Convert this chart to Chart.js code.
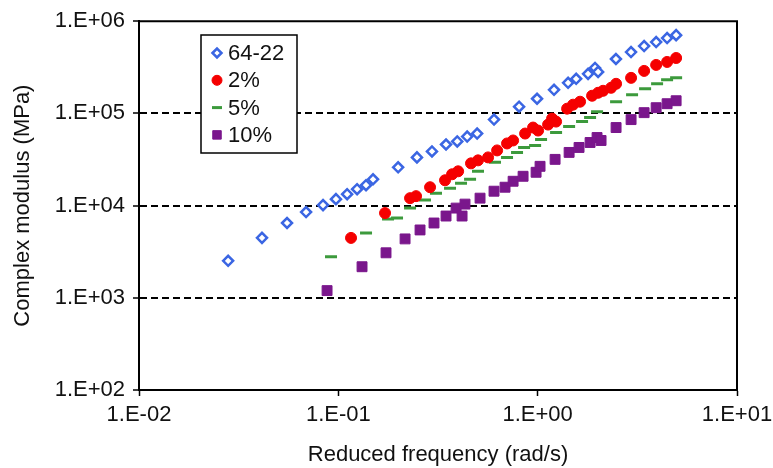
<!DOCTYPE html>
<html>
<head>
<meta charset="utf-8">
<script src="https://cdn.jsdelivr.net/npm/chart.js@4.4.1/dist/chart.umd.min.js"></script>
<style>
  body { margin: 0; background: #fff; }
  #wrap { width: 773px; height: 468px; }
</style>
</head>
<body>
<div id="wrap"><canvas id="modulus" width="773" height="468"></canvas></div>
<script>
// ticks (decades only)
const xTicks = [0.01, 0.1, 1, 10];
const yTicks = [100, 1000, 10000, 100000, 1000000];

// 64-22 (base binder)
const freq6422 = [0.0280, 0.0414, 0.0553, 0.0689, 0.0838, 0.0973, 0.1107, 0.1242, 0.1377, 0.1493,
  0.1995, 0.248, 0.295, 0.347, 0.395, 0.443, 0.497, 0.604, 0.807, 0.993, 1.208, 1.421, 1.56,
  1.79, 1.94, 2.01, 2.47, 2.94, 3.42, 3.93, 4.46, 4.95];
const mod6422 = [2522, 4467, 6476, 8511, 10120, 11750, 13300, 15060, 16630, 19300,
  26000, 33340, 38700, 46000, 49600, 56100, 60500, 85700, 118300, 144200, 180300, 214600, 237000,
  268400, 311400, 282000, 389000, 463000, 537500, 594000, 656000, 706000];

// 2%
const freq2 = [0.1158, 0.1715, 0.229, 0.2454, 0.2885, 0.343, 0.372, 0.399, 0.463, 0.502, 0.564,
  0.626, 0.702, 0.753, 0.865, 0.948, 1.005, 1.128, 1.181, 1.237, 1.405, 1.505, 1.632, 1.875,
  2.010, 2.129, 2.335, 2.474, 2.942, 3.42, 3.93, 4.46, 4.95];
const mod2 = [4462, 8300, 12040, 12660, 15830, 18830, 21860, 23550, 28720, 30950, 33330,
  39670, 47200, 50850, 60480, 70220, 65160, 75630, 87800, 81500, 112500, 124300, 133900, 155400,
  167400, 175900, 189600, 209400, 242900, 289000, 335500, 361400, 399000];

// 5%
const freq5 = [0.0919, 0.1377, 0.1776, 0.197, 0.229, 0.272, 0.309, 0.3634, 0.4126, 0.458, 0.502,
  0.611, 0.702, 0.788, 0.855, 0.971, 1.040, 1.237, 1.438, 1.670, 1.832, 1.986, 2.474, 2.976,
  3.459, 3.973, 4.46, 4.95];
const mod5 = [2784, 5052, 7151, 7331, 9397, 11470, 13640, 15440, 17480, 19310, 23550,
  29440, 33330, 37740, 42730, 44900, 52120, 62000, 71960, 81500, 90000, 104400, 133900, 159300,
  184900, 209400, 231100, 242900];

// 10%
const freq10 = [0.0878, 0.1315, 0.1735, 0.2162, 0.2570, 0.302, 0.347, 0.3897, 0.4176, 0.432,
  0.514, 0.604, 0.686, 0.753, 0.845, 0.982, 1.028, 1.223, 1.438, 1.613, 1.832, 1.986, 2.080,
  2.474, 2.942, 3.42, 3.93, 4.46, 4.95];
const mod10 = [1197, 2172, 3075, 4353, 5443, 6476, 7705, 9397, 7705, 10380,
  12040, 14330, 15830, 18370, 20800, 22980, 26670, 31720, 37740, 42730, 48370, 54760, 50850,
  70220, 85630, 101900, 115300, 127400, 137200];

function pts(xs, ys) {
  return xs.map((x, i) => ({ x: x, y: ys[i] }));
}

function sciLabel(v) {
  const e = Math.round(Math.log10(v));
  return "1.E" + (e < 0 ? "-" : "+") + String(Math.abs(e)).padStart(2, "0");
}

Chart.defaults.font.family = "'Liberation Sans', Arial, sans-serif";
Chart.defaults.font.size = 22;
Chart.defaults.color = "#111";

// frame on top/right and the boxed legend inside the plot
const framePlugin = {
  id: "frameLegend",
  afterDraw(chart) {
    const { ctx, chartArea: a } = chart;
    ctx.save();
    ctx.strokeStyle = "#000";
    ctx.lineWidth = 2;
    ctx.beginPath();
    ctx.moveTo(a.left, a.top);
    ctx.lineTo(a.right, a.top);
    ctx.lineTo(a.right, a.bottom);
    ctx.stroke();

    // legend box
    const bx = 201, by = 35, bw = 96, bh = 118;
    ctx.fillStyle = "#fff";
    ctx.fillRect(bx, by, bw, bh);
    ctx.lineWidth = 1.5;
    ctx.strokeRect(bx, by, bw, bh);
    ctx.font = "22px 'Liberation Sans', Arial, sans-serif";
    ctx.textBaseline = "middle";
    ctx.textAlign = "left";
    chart.data.datasets.forEach((ds, i) => {
      const y = by + 18 + i * 27.3;
      ctx.save();
      ctx.fillStyle = ds.pointBackgroundColor;
      ctx.strokeStyle = ds.pointBorderColor;
      ctx.lineWidth = ds.pointBorderWidth;
      Chart.helpers.drawPoint(ctx, {
        pointStyle: ds.pointStyle,
        radius: ds.legendRadius,
        borderWidth: ds.pointBorderWidth,
        rotation: 0
      }, bx + 16, y);
      ctx.restore();
      ctx.fillStyle = "#111";
      ctx.fillText(ds.label, bx + 27, y + 1);
    });
    ctx.restore();
  }
};

new Chart(document.getElementById("modulus").getContext("2d"), {
  type: "scatter",
  data: {
    datasets: [
      {
        label: "64-22",
        data: pts(freq6422, mod6422),
        pointStyle: "rectRot",
        pointRadius: 5,
        legendRadius: 4.5,
        pointBorderWidth: 2.5,
        pointBackgroundColor: "#fff",
        pointBorderColor: "#3b66e3"
      },
      {
        label: "2%",
        data: pts(freq2, mod2),
        pointStyle: "circle",
        pointRadius: 5.5,
        legendRadius: 5,
        pointBorderWidth: 1,
        pointBackgroundColor: "#f50000",
        pointBorderColor: "#f50000"
      },
      {
        label: "5%",
        data: pts(freq5, mod5),
        pointStyle: "line",
        pointRadius: 6,
        legendRadius: 5,
        pointBorderWidth: 3,
        pointBackgroundColor: "#3c9a3c",
        pointBorderColor: "#3c9a3c"
      },
      {
        label: "10%",
        data: pts(freq10, mod10),
        pointStyle: "rect",
        pointRadius: 7,
        legendRadius: 6,
        pointBorderWidth: 1,
        pointBackgroundColor: "#7a168c",
        pointBorderColor: "#7a168c"
      }
    ]
  },
  options: {
    responsive: false,
    animation: false,
    layout: { padding: { top: 20, right: 36, left: 0, bottom: 0 } },
    plugins: {
      legend: { display: false },
      tooltip: { enabled: false }
    },
    scales: {
      x: {
        type: "logarithmic",
        min: 0.01,
        max: 10,
        afterBuildTicks: (scale) => { scale.ticks = xTicks.map(v => ({ value: v })); },
        afterFit: (scale) => {
          scale.height = 78;
          scale.paddingLeft = 0;
          scale.paddingRight = 0;
        },
        ticks: { callback: (v) => sciLabel(v), padding: 6, maxRotation: 0, autoSkip: false },
        grid: { drawOnChartArea: false, tickLength: 6, tickColor: "#000", tickWidth: 1.5 },
        border: { color: "#000", width: 2 },
        title: {
          display: true,
          text: "Reduced frequency (rad/s)",
          font: { size: 22 },
          padding: { top: 2, bottom: 0 }
        }
      },
      y: {
        type: "logarithmic",
        min: 100,
        max: 1000000,
        afterBuildTicks: (scale) => { scale.ticks = yTicks.map(v => ({ value: v })); },
        afterFit: (scale) => { scale.width = 139; },
        ticks: { callback: (v) => sciLabel(v), padding: 8, autoSkip: false },
        grid: {
          color: (c) => (c.tick && (c.tick.value === 100 || c.tick.value === 1000000)) ? "rgba(0,0,0,0)" : "#000",
          lineWidth: 2,
          tickLength: 6,
          tickColor: "#000",
          tickWidth: 1.5
        },
        border: { color: "#000", width: 2, dash: [7, 4] },
        title: {
          display: true,
          text: "Complex modulus (MPa)",
          font: { size: 22 },
          padding: { top: 10, bottom: 0 }
        }
      }
    }
  },
  plugins: [framePlugin]
});
</script>
</body>
</html>
